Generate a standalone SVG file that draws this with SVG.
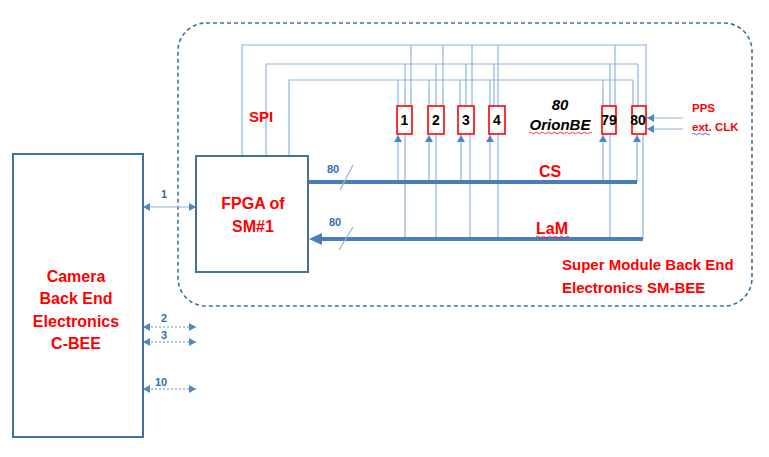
<svg xmlns="http://www.w3.org/2000/svg" width="769" height="457" viewBox="0 0 769 457">
<defs>
<style>
.box{fill:#fff;stroke:#41719c;stroke-width:2}
.chip{fill:#fff;stroke:#ff0000;stroke-width:1.6}
.w{stroke:#8fb4e0;stroke-width:1.2;fill:none}
.bus{stroke:#4a7ebb;stroke-width:4;fill:none}
.ah{fill:#4f86c6}
.red{font-family:"Liberation Sans",Arial,sans-serif;font-weight:bold;fill:#ff0000}
.blk{font-family:"Liberation Sans",Arial,sans-serif;font-weight:bold;fill:#000}
.blu{font-family:"Liberation Sans",Arial,sans-serif;font-weight:bold;fill:#2e6db4;font-size:11px}
.dot{stroke:#5b8fd0;stroke-width:1.2;stroke-dasharray:2 2;fill:none}
.sq{fill:none;stroke-width:0.8}
</style>
<marker id="arr" viewBox="0 0 10 10" refX="10" refY="5" markerWidth="7" markerHeight="8" markerUnits="userSpaceOnUse" orient="auto-start-reverse" preserveAspectRatio="none">
<path d="M0,0 L10,5 L0,10 z" class="ah"/>
</marker>
</defs>
<rect width="769" height="457" fill="#fff"/>

<g id="sm-bee">
<rect x="178" y="23" width="574" height="283" rx="28" ry="28" fill="none" stroke="#41719c" stroke-width="1.6" stroke-dasharray="4 3"/>
<text class="red" font-size="15" x="562" y="270">Super Module Back End</text>
<text class="red" font-size="15" x="562" y="293">Electronics SM-BEE</text>
</g>

<g id="connectors">
<path class="w" d="M242,156 V45 H647 M266,156 V64 H638 M289,156 V80 H633"/>
<path class="w" d="M398,80 V106 M405,64 V106 M411,45 V106
M429,80 V106 M436,64 V106 M443,45 V106
M460,80 V106 M466,64 V106 M472,45 V106
M490,80 V106 M494,64 V106 M498,45 V106
M603,80 V106 M610,64 V106 M615,45 V106
M633,80 V106 M638,64 V106 M646,45 V106"/>
<path class="w" d="M405,134 V239 M436,134 V239 M470,134 V239 M498,134 V239 M610,134 V239 M643,134 V239"/>
<path class="w" marker-end="url(#arr)" d="M398,182 V135"/>
<path class="w" marker-end="url(#arr)" d="M429,182 V135"/>
<path class="w" marker-end="url(#arr)" d="M461,182 V135"/>
<path class="w" marker-end="url(#arr)" d="M490,182 V135"/>
<path class="w" marker-end="url(#arr)" d="M603,182 V135"/>
<path class="w" marker-end="url(#arr)" d="M637,182 V135"/>
<path class="w" marker-end="url(#arr)" d="M683,118 H647"/>
<path class="w" marker-end="url(#arr)" d="M683,129 H647"/>
<path class="bus" d="M308,182 H637"/>
<path class="bus" d="M643,239 H320"/>
<path d="M309,239 L322,233 L322,245 z" fill="#4a7ebb"/>
<path d="M353,165 L340,190 M353,227 L339,250" stroke="#8fb4e0" stroke-width="1.2"/>
<path class="w" marker-start="url(#arr)" marker-end="url(#arr)" d="M143,207 H196"/>
<path class="dot" marker-start="url(#arr)" marker-end="url(#arr)" d="M143,327 H196"/>
<path class="dot" marker-start="url(#arr)" marker-end="url(#arr)" d="M143,342 H196"/>
<path class="dot" marker-start="url(#arr)" marker-end="url(#arr)" d="M143,389 H196"/>
<text class="blu" x="164" y="198" text-anchor="middle">1</text>
<text class="blu" x="164" y="322" text-anchor="middle">2</text>
<text class="blu" x="164" y="339" text-anchor="middle">3</text>
<text class="blu" x="161" y="386" text-anchor="middle">10</text>
<text class="blu" x="333" y="173" text-anchor="middle">80</text>
<text class="blu" x="335" y="226" text-anchor="middle">80</text>
<text class="red" font-size="16" x="550" y="177" text-anchor="middle">CS</text>
<text class="red" font-size="16" x="552" y="234" text-anchor="middle">LaM</text>
<path class="sq" stroke="#ff0000" d="M536,237 q1.5,-1.5 3,0 t3,0 t3,0 t3,0 t3,0 t3,0 t3,0 t3,0 t3,0 t3,0 t3,0"/>
<text class="red" font-size="15" x="261" y="122" text-anchor="middle">SPI</text>
<text class="red" font-size="11.5" x="692" y="112">PPS</text>
<text class="red" font-size="11.5" x="692" y="131">ext. CLK</text>
<path class="sq" stroke="#3030ff" d="M692,134 q1.5,-1.5 3,0 t3,0 t3,0 t3,0 t3,0 t3,0"/>
</g>

<g id="c-bee">
<rect class="box" x="13" y="154" width="130" height="283"/>
<text class="red" font-size="16" text-anchor="middle" x="76" y="282">Camera</text>
<text class="red" font-size="16" text-anchor="middle" x="76" y="304">Back End</text>
<text class="red" font-size="16" text-anchor="middle" x="76" y="327">Electronics</text>
<text class="red" font-size="16" text-anchor="middle" x="76" y="349">C-BEE</text>
</g>

<g id="fpga">
<rect class="box" x="196" y="156" width="112" height="116"/>
<text class="red" font-size="16" text-anchor="middle" x="253" y="209">FPGA of</text>
<text class="red" font-size="16" text-anchor="middle" x="253" y="232">SM#1</text>
</g>

<g id="chip1"><rect class="chip" x="397" y="106" width="15" height="28"/><text class="blk" font-size="14" x="404.5" y="125" text-anchor="middle">1</text></g>
<g id="chip2"><rect class="chip" x="428" y="106" width="16" height="28"/><text class="blk" font-size="14" x="436" y="125" text-anchor="middle">2</text></g>
<g id="chip3"><rect class="chip" x="458" y="106" width="16" height="28"/><text class="blk" font-size="14" x="466" y="125" text-anchor="middle">3</text></g>
<g id="chip4"><rect class="chip" x="489" y="106" width="16" height="28"/><text class="blk" font-size="14" x="497" y="125" text-anchor="middle">4</text></g>
<g id="chip79"><rect class="chip" x="602" y="106" width="14" height="28"/><text class="blk" font-size="14" x="609" y="125" text-anchor="middle">79</text></g>
<g id="chip80"><rect class="chip" x="632" y="106" width="14" height="28"/><text class="blk" font-size="14" x="638" y="125" text-anchor="middle">80</text></g>

<g id="orion-label">
<text class="blk" font-size="15" font-style="italic" x="560" y="110" text-anchor="middle">80</text>
<text class="blk" font-size="15" font-style="italic" x="560" y="130" text-anchor="middle">OrionBE</text>
<path class="sq" stroke="#ff0000" d="M529,133 q1.5,-1.5 3,0 t3,0 t3,0 t3,0 t3,0 t3,0 t3,0 t3,0 t3,0 t3,0 t3,0 t3,0 t3,0 t3,0 t3,0 t3,0 t3,0 t3,0 t3,0 t3,0 t3,0"/>
</g>
</svg>
